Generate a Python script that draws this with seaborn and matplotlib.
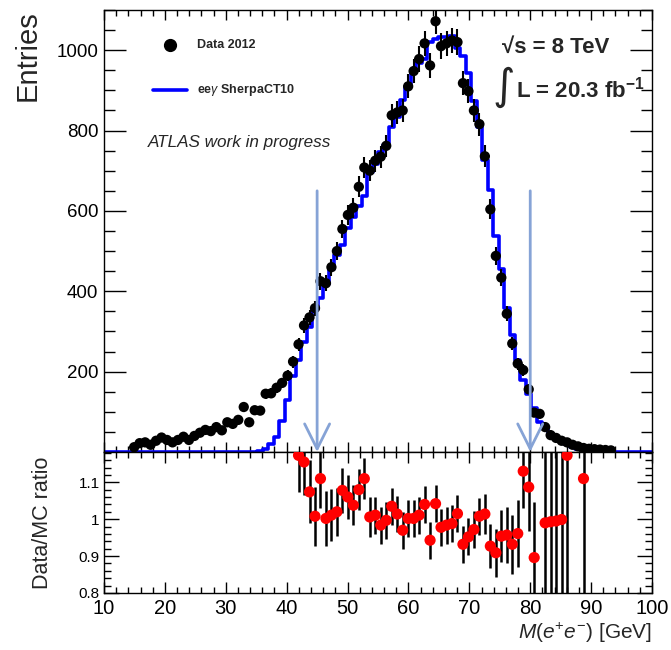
import numpy as np
import pandas as pd
import matplotlib
matplotlib.use("Agg")
import matplotlib.pyplot as plt
from matplotlib.ticker import MultipleLocator
import seaborn as sns

# 100 bins of 0.9 GeV between 10 and 100 GeV
bin_lo = 10.0
bin_hi = 100.0
n_bins = 100

# data 2012, first filled bin = 5
data_first_bin = 5
data_counts = [12, 22, 24, 18, 28, 36, 30, 24, 30, 38,
               30, 40, 48, 55, 52, 62, 54, 74, 70, 80,
               112, 74, 104, 103, 145, 146, 160, 172, 190, 225,
               268, 315, 335, 358, 425, 420, 460, 500, 555, 590,
               608, 660, 708, 700, 725, 735, 762, 838, 845, 850,
               910, 948, 978, 1017, 962, 1072, 1010, 1017, 1024, 1020,
               918, 898, 850, 816, 736, 604, 488, 434, 344, 270,
               220, 204, 156, 98, 95, 62, 42, 35, 28, 24,
               18, 14, 10, 8, 7, 6, 5, 4]

# ee gamma Sherpa CT10, first filled bin = 28
mc_first_bin = 28
mc_counts = [2, 8, 20, 38, 78, 130, 190, 228, 273, 312,
             355, 383, 419, 455, 490, 515, 557, 586, 611, 638,
             696, 717, 747, 764, 810, 833, 876, 908, 946, 967,
             978, 1020, 1029, 1033, 1034, 1036, 1005, 985, 943, 874,
             810, 726, 652, 537, 455, 359, 290, 229, 180, 144,
             109, 75, 63, 42, 35, 28, 20, 12, 8, 9,
             4, 3, 2, 1, 1]

# Data/MC ratio, first bin = 35
ratio_first_bin = 35
ratio_vals = [1.173, 1.155, 1.074, 1.008, 1.11, 1.002, 1.011, 1.02, 1.078, 1.06,
              1.038, 1.08, 1.11, 1.006, 1.011, 0.984, 0.997, 1.035, 1.014, 0.97,
              1.002, 1.002, 1.011, 1.04, 0.943, 1.042, 0.978, 0.984, 0.988, 1.015,
              0.932, 0.952, 0.972, 1.008, 1.014, 0.927, 0.909, 0.954, 0.957, 0.932,
              0.961, 1.13, 1.087, 0.896, np.nan, 0.99, 0.993, 0.995, 0.999, 1.173,
              np.nan, np.nan, 1.11]
ratio_errs = [0.10, 0.09, 0.085, 0.08, 0.08, 0.075, 0.07, 0.065, 0.06, 0.06,
              0.055, 0.055, 0.055, 0.055, 0.05, 0.05, 0.05, 0.05, 0.05, 0.05,
              0.05, 0.05, 0.05, 0.05, 0.05, 0.05, 0.05, 0.05, 0.05, 0.05,
              0.05, 0.05, 0.05, 0.05, 0.055, 0.06, 0.065, 0.07, 0.075, 0.08,
              0.09, 0.10, 0.12, 0.15, np.nan, 0.25, 0.3, 0.35, 0.4, 0.5,
              np.nan, np.nan, 0.8]

cut_positions = [45, 80]
arrow_top = 650

edges = np.linspace(bin_lo, bin_hi, n_bins + 1)
centers = 0.5 * (edges[:-1] + edges[1:])

mc_full = np.zeros(n_bins)
mc_full[mc_first_bin:mc_first_bin + len(mc_counts)] = mc_counts
mc = pd.DataFrame({"x": centers, "w": mc_full})

data = pd.DataFrame({"x": centers[data_first_bin:data_first_bin + len(data_counts)],
                     "y": data_counts})
data["err"] = np.sqrt(data["y"])

ratio = pd.DataFrame({"x": centers[ratio_first_bin:ratio_first_bin + len(ratio_vals)],
                      "r": ratio_vals, "err": ratio_errs}).dropna()

sns.set_theme(style="ticks")
plt.rcParams["font.family"] = ["Liberation Sans", "DejaVu Sans"]
plt.rcParams["mathtext.fontset"] = "custom"
plt.rcParams["mathtext.rm"] = "Liberation Sans"
plt.rcParams["mathtext.it"] = "Liberation Sans:italic"
plt.rcParams["mathtext.bf"] = "Liberation Sans:bold"
plt.rcParams["axes.linewidth"] = 1.0
plt.rcParams["axes.edgecolor"] = "black"

fig = plt.figure(figsize=(6.71, 6.5), dpi=100)
ax = fig.add_axes([0.155, 0.3046, 0.8167, 0.68])
axr = fig.add_axes([0.155, 0.0877, 0.8167, 0.2169])

# ---- top panel
sns.histplot(data=mc, x="x", weights="w", bins=edges.tolist(), element="step", fill=False,
             color="#0000ff", linewidth=2.6, ax=ax, zorder=2)
ax.errorbar(data["x"], data["y"], yerr=data["err"], fmt="none", ecolor="black",
            elinewidth=1.5, capsize=0, zorder=3)
sns.scatterplot(data=data, x="x", y="y", color="black", s=55, edgecolor="none",
                zorder=4, ax=ax, legend=False)

arrow_col = "#86a3d6"
for xc in cut_positions:
    ax.annotate("", xy=(xc, 0), xytext=(xc, arrow_top),
                arrowprops=dict(arrowstyle="->,head_length=0.9,head_width=0.45",
                                color=arrow_col, lw=2, mutation_scale=20,
                                shrinkA=0, shrinkB=0), zorder=5)

ax.set_xlim(bin_lo, bin_hi)
ax.set_ylim(0, 1100)
ax.xaxis.set_major_locator(MultipleLocator(10))
ax.xaxis.set_minor_locator(MultipleLocator(2))
ax.set_yticks([200, 400, 600, 800, 1000])
ax.yaxis.set_minor_locator(MultipleLocator(50))
ax.tick_params(which="both", direction="in", top=True, right=True, labelbottom=False,
               colors="black")
ax.tick_params(axis="y", which="major", length=16, width=1, labelsize=13.5, pad=4)
ax.tick_params(axis="y", which="minor", length=8, width=1)
ax.tick_params(axis="x", which="major", length=7, width=1)
ax.tick_params(axis="x", which="minor", length=4, width=1)
ax.set_xlabel("")
ax.set_ylabel("Entries", fontsize=21, loc="top")
ax.yaxis.set_label_coords(-0.113, 1.0)

# legend and labels
ax.plot([0.1204], [0.921], "o", color="black", markersize=8.5, transform=ax.transAxes)
ax.text(0.1697, 0.921, "Data 2012", transform=ax.transAxes, fontsize=9,
        fontweight="bold", va="center", ha="left")
ax.plot([0.0894, 0.1515], [0.819, 0.819], color="#0000ff", lw=2.6, transform=ax.transAxes)
ax.text(0.1697, 0.819, r"ee$\gamma$ SherpaCT10", transform=ax.transAxes, fontsize=9,
        fontweight="bold", va="center", ha="left")
ax.text(0.0803, 0.70, "ATLAS work in progress", transform=ax.transAxes, fontsize=12.3,
        style="italic", va="center", ha="left")
ax.text(0.726, 0.916, "\u221as = 8 TeV", transform=ax.transAxes, fontsize=16,
        fontweight="bold", va="center", ha="left")
ax.text(0.708, 0.826, "\u222b", transform=ax.transAxes, fontsize=31,
        family=["DejaVu Sans"], va="center", ha="left")
ax.text(0.752, 0.819, r"L = 20.3 fb$^{\mathbf{-1}}$", transform=ax.transAxes,
        fontsize=16, fontweight="bold", va="center", ha="left")

# ---- ratio panel
axr.errorbar(ratio["x"], ratio["r"], yerr=ratio["err"], fmt="none", ecolor="black",
             elinewidth=1.8, capsize=0, zorder=3)
sns.scatterplot(data=ratio, x="x", y="r", color="#ff0000", s=65, edgecolor="none",
                zorder=4, ax=axr, legend=False)
axr.set_xlim(bin_lo, bin_hi)
axr.set_ylim(0.8, 1.182)
axr.set_yticks([0.8, 0.9, 1.0, 1.1])
axr.set_yticklabels(["0.8", "0.9", "1", "1.1"])
axr.yaxis.set_minor_locator(MultipleLocator(0.02))
axr.xaxis.set_major_locator(MultipleLocator(10))
axr.xaxis.set_minor_locator(MultipleLocator(2))
axr.tick_params(which="both", direction="in", top=True, right=True, colors="black")
axr.tick_params(axis="y", which="major", length=11, width=1, labelsize=11, pad=3)
axr.tick_params(axis="y", which="minor", length=5, width=1)
axr.tick_params(axis="x", which="major", length=8, width=1, labelsize=14.5, pad=4)
axr.tick_params(axis="x", which="minor", length=4, width=1)
axr.set_ylabel("Data/MC ratio", fontsize=15.5)
axr.yaxis.set_label_coords(-0.093, 0.5)
axr.set_xlabel(r"$M(e^{+}e^{-})$ [GeV]", fontsize=15, loc="right")
axr.xaxis.set_label_coords(1.0, -0.2)

fig.savefig("out.png", dpi=100)
